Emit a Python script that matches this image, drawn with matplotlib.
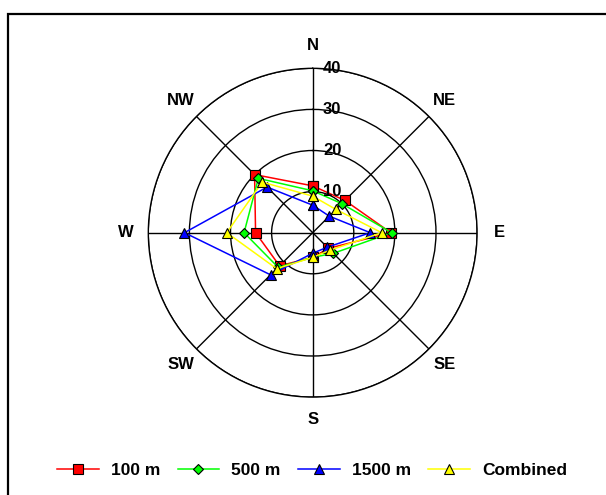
import numpy as np
import matplotlib
matplotlib.use("Agg")
import matplotlib.pyplot as plt
from matplotlib.patches import Rectangle
from matplotlib.transforms import offset_copy

plt.rcParams['font.family'] = ['Liberation Sans', 'DejaVu Sans']
plt.rcParams['font.weight'] = 'bold'

directions = ["N", "NE", "E", "SE", "S", "SW", "W", "NW"]
r_ticks = [10, 20, 30, 40]

series_names = ["100 m", "500 m", "1500 m", "Combined"]
v100 = [11.4, 11.1, 19.0, 5.4, 6.0, 11.4, 13.9, 20.0]
v500 = [10.2, 10.0, 19.2, 7.1, 6.0, 11.9, 16.7, 18.7]
v1500 = [6.7, 5.7, 14.0, 5.0, 5.0, 14.5, 31.2, 15.7]
vcomb = [8.9, 8.0, 16.8, 6.0, 6.0, 12.4, 20.9, 17.4]

colors = ["#FF0000", "#00FF00", "#0000FF", "#FFFF00"]
markers = ["s", "D", "^", "^"]
msizes = [6.5, 5, 6.5, 6.5]

fig = plt.figure(figsize=(6.06, 4.95), dpi=100)
fig.patches.append(Rectangle((8/606, -0.1), 1.2, (495-14)/495 + 0.1,
                             transform=fig.transFigure, fill=False,
                             edgecolor='black', lw=1.6, zorder=0))

ax = fig.add_axes([0.2447, 0.1978, 0.5426, 0.6642], projection='polar')
ax.set_theta_zero_location('N')
ax.set_theta_direction(-1)
ax.set_ylim(0, 40)

angles = np.deg2rad(np.arange(len(directions)) * 45.0)

ax.set_xticks(angles)
ax.set_xticklabels([])
ax.set_yticks(r_ticks)
ax.set_yticklabels([])
ax.grid(True, color='black', lw=1.0, ls='-')
ax.spines['polar'].set_color('black')
ax.spines['polar'].set_linewidth(1.0)
ax.tick_params(length=0)

for a, d in zip(angles, directions):
    ax.text(a, 45.5, d, ha='center', va='center', fontsize=12,
            fontweight='bold', clip_on=False)

tr = offset_copy(ax.transData, fig=fig, x=7.5, y=0, units='points')
for r in r_ticks:
    ax.text(0, r, str(r), transform=tr, ha='left', va='center',
            fontsize=12, fontweight='bold', zorder=10)

all_vals = [v100, v500, v1500, vcomb]
for name, vals, c, m, ms in zip(series_names, all_vals, colors, markers, msizes):
    th = np.concatenate([angles, angles[:1]])
    rr = np.concatenate([vals, vals[:1]])
    ax.plot(th, rr, color=c, lw=1.1, marker=m, markersize=ms,
            markerfacecolor=c, markeredgecolor='black', markeredgewidth=0.8,
            label=name, clip_on=False, zorder=5)

fig.legend(loc='center', bbox_to_anchor=(0.515, 0.05), ncol=4, frameon=False,
           handlelength=2.4, handletextpad=0.7,
           columnspacing=1.0, prop={'weight': 'bold', 'size': 12.5})

fig.savefig("out.png", dpi=100)
